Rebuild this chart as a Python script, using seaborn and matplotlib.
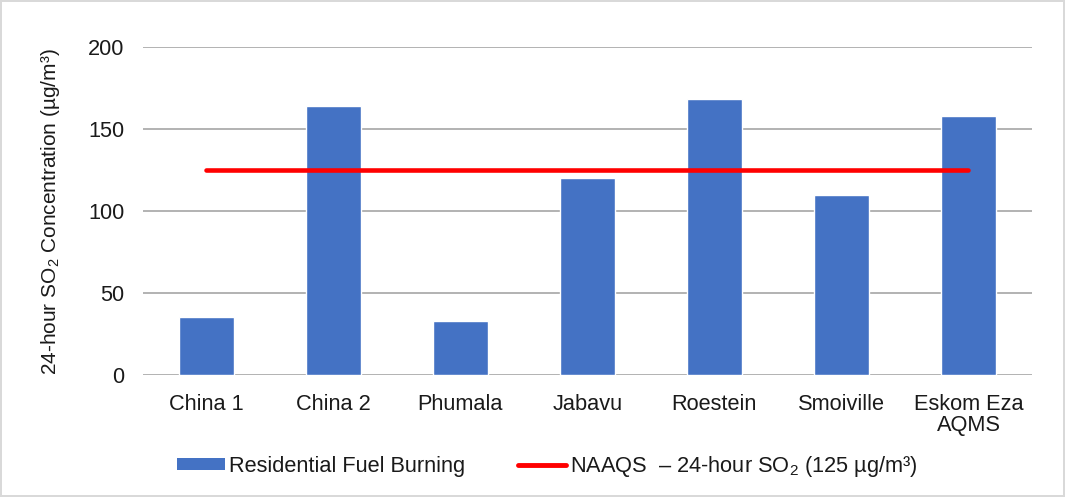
import numpy as np
import pandas as pd
import matplotlib
matplotlib.use("Agg")
import matplotlib.pyplot as plt
import seaborn as sns
from matplotlib.patches import Patch
from matplotlib.lines import Line2D

stations = ["China 1", "China 2", "Phumala", "Jabavu", "Roestein", "Smoiville", "Eskom Eza\nAQMS"]
so2_24h = [35.5, 164, 33, 120, 168.5, 110, 158]
naaqs_limit = 125
yticks = [0, 50, 100, 150, 200]

BAR_COLOR = "#4472C4"
LINE_COLOR = "#FF0000"
GRID_COLOR = "#A6A6A6"
TEXT_COLOR = "#1a1a1a"
FS = 15.7

sns.set_style("white")
plt.rcParams["font.family"] = ["Liberation Sans", "DejaVu Sans"]
plt.rcParams["mathtext.fontset"] = "custom"
plt.rcParams["mathtext.rm"] = "Liberation Sans"
plt.rcParams["mathtext.it"] = "Liberation Sans"

df = pd.DataFrame({"station": stations, "so2": so2_24h})
df["naaqs"] = naaqs_limit

fig = plt.figure(figsize=(10.65, 4.97), dpi=100, edgecolor="#D9D9D9", linewidth=1.5)
ax = fig.add_axes([0.134, 0.245, 0.835, 0.66])

sns.barplot(data=df, x="station", y="so2", color=BAR_COLOR, width=0.43,
            saturation=1, ax=ax, zorder=2)
sns.lineplot(data=df, x="station", y="naaqs", color=LINE_COLOR, linewidth=3.3,
             sort=False, ax=ax, zorder=3, solid_capstyle="round")

ax.set_ylim(0, 200)
ax.set_yticks(yticks)
ax.set_xlim(-0.5, len(stations) - 0.5)
ax.yaxis.grid(True, color=GRID_COLOR, linewidth=1.2)
ax.set_axisbelow(True)
for s in ["top", "right", "left", "bottom"]:
    ax.spines[s].set_visible(False)
ax.tick_params(axis="both", length=0, labelsize=FS, colors=TEXT_COLOR)
ax.tick_params(axis="y", pad=13)
ax.tick_params(axis="x", pad=13.5)
for t in ax.get_xticklabels():
    t.set_linespacing(1.0)
ax.set_xlabel("")
ax.set_ylabel("24-hour SO$_2$ Concentration (µg/m³)", fontsize=15, color=TEXT_COLOR, labelpad=19)

handles = [Patch(facecolor=BAR_COLOR, edgecolor="none"),
           Line2D([0], [0], color=LINE_COLOR, linewidth=3.5)]
labels = ["Residential Fuel Burning", "NAAQS  \u2013 24-hour SO$_2$ (125 µg/m³)"]
fig.legend(handles, labels, loc="center", bbox_to_anchor=(0.514, 0.062), ncol=2,
           frameon=False, fontsize=FS, columnspacing=2.4, handlelength=2.2,
           handleheight=0.5, handletextpad=0.2, labelcolor=TEXT_COLOR)

fig.savefig("out.png", dpi=100)
